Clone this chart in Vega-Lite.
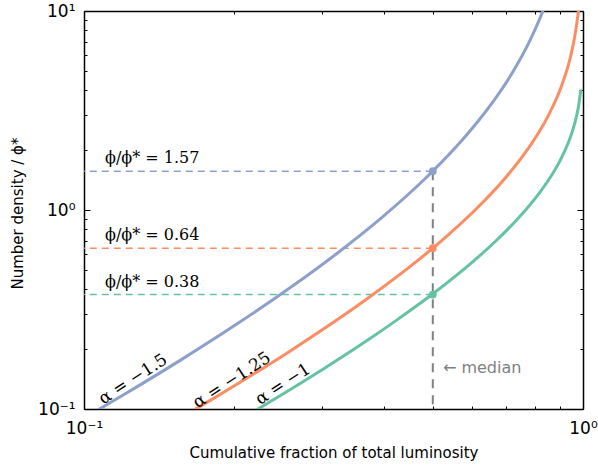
{
  "$schema": "https://vega.github.io/schema/vega-lite/v6.json",
  "width": 499,
  "height": 398,
  "autosize": "none",
  "padding": {"left": 84, "top": 11, "right": 15, "bottom": 61},
  "background": "white",
  "config": {
    "view": {"stroke": null},
    "axis": {"grid": false, "labelFont": "DejaVu Sans", "titleFont": "DejaVu Sans", "tickColor": "black", "domainColor": "black", "labelColor": "black", "titleColor": "black", "titleFontWeight": "normal", "tickWidth": 1}
  },
  "resolve": {"axis": {"x": "independent", "y": "independent"}},
  "datasets": {
    "curves": [
      {"series": "-1.5", "f": 0.8875, "n": 16.65},
      {"series": "-1.5", "f": 0.8597, "n": 12.70},
      {"series": "-1.5", "f": 0.8320, "n": 10.09},
      {"series": "-1.5", "f": 0.7773, "n": 6.852},
      {"series": "-1.5", "f": 0.7237, "n": 4.950},
      {"series": "-1.5", "f": 0.6714, "n": 3.713},
      {"series": "-1.5", "f": 0.6206, "n": 2.856},
      {"series": "-1.5", "f": 0.5716, "n": 2.234},
      {"series": "-1.5", "f": 0.5, "n": 1.568},
      {"series": "-1.5", "f": 0.4795, "n": 1.415},
      {"series": "-1.5", "f": 0.3961, "n": 0.9213},
      {"series": "-1.5", "f": 0.3222, "n": 0.6082},
      {"series": "-1.5", "f": 0.2579, "n": 0.4040},
      {"series": "-1.5", "f": 0.2031, "n": 0.2686},
      {"series": "-1.5", "f": 0.1573, "n": 0.1781},
      {"series": "-1.5", "f": 0.1198, "n": 0.1175},
      {"series": "-1.5", "f": 0.0897, "n": 0.0769},
      {"series": "-1.25", "f": 0.99388, "n": 17.60},
      {"series": "-1.25", "f": 0.98607, "n": 12.21},
      {"series": "-1.25", "f": 0.97959, "n": 10.17},
      {"series": "-1.25", "f": 0.96574, "n": 7.790},
      {"series": "-1.25", "f": 0.94263, "n": 5.806},
      {"series": "-1.25", "f": 0.90433, "n": 4.161},
      {"series": "-1.25", "f": 0.85627, "n": 3.052},
      {"series": "-1.25", "f": 0.81455, "n": 2.444},
      {"series": "-1.25", "f": 0.75383, "n": 1.837},
      {"series": "-1.25", "f": 0.70080, "n": 1.462},
      {"series": "-1.25", "f": 0.61061, "n": 1.011},
      {"series": "-1.25", "f": 0.53569, "n": 0.7458},
      {"series": "-1.25", "f": 0.47206, "n": 0.5713},
      {"series": "-1.25", "f": 0.36983, "n": 0.3588},
      {"series": "-1.25", "f": 0.26002, "n": 0.1970},
      {"series": "-1.25", "f": 0.18467, "n": 0.1157},
      {"series": "-1.25", "f": 0.14760, "n": 0.0830},
      {"series": "-1", "f": 0.99005, "n": 4.038},
      {"series": "-1", "f": 0.98020, "n": 3.355},
      {"series": "-1", "f": 0.97045, "n": 2.959},
      {"series": "-1", "f": 0.95123, "n": 2.468},
      {"series": "-1", "f": 0.90484, "n": 1.823},
      {"series": "-1", "f": 0.86071, "n": 1.464},
      {"series": "-1", "f": 0.81873, "n": 1.223},
      {"series": "-1", "f": 0.74082, "n": 0.9057},
      {"series": "-1", "f": 0.67032, "n": 0.7024},
      {"series": "-1", "f": 0.60653, "n": 0.5598},
      {"series": "-1", "f": 0.49659, "n": 0.3738},
      {"series": "-1", "f": 0.42741, "n": 0.2846},
      {"series": "-1", "f": 0.36788, "n": 0.2194},
      {"series": "-1", "f": 0.30119, "n": 0.1584},
      {"series": "-1", "f": 0.22313, "n": 0.1000},
      {"series": "-1", "f": 0.20190, "n": 0.0863}
    ],
    "medians": [
      {"series": "-1.5", "f": 0.5, "n": 1.568, "label": "ϕ/ϕ* = 1.57"},
      {"series": "-1.25", "f": 0.5, "n": 0.643, "label": "ϕ/ϕ* = 0.64"},
      {"series": "-1", "f": 0.5, "n": 0.376, "label": "ϕ/ϕ* = 0.38"}
    ],
    "alphas": [
      {"series": "-1.5", "f": 0.1254, "n": 0.141, "label": "α = −1.5"},
      {"series": "-1.25", "f": 0.198, "n": 0.1394, "label": "α = −1.25"},
      {"series": "-1", "f": 0.2505, "n": 0.133, "label": "α = −1"}
    ],
    "note": [
      {"f": 0.524, "n": 0.1607, "label": "← median"}
    ]
  },
  "layer": [
    {
      "data": {"name": "medians"},
      "mark": {"type": "rule", "strokeWidth": 1.5, "strokeDash": [7, 5]},
      "encoding": {
        "x": {"field": "f", "type": "quantitative", "scale": {"type": "log", "domain": [0.1, 1], "nice": false},
              "axis": {"orient": "top", "values": [0.1, 1], "labels": false, "title": null, "domain": true, "domainWidth": 1.5, "tickSize": -6}},
        "x2": {"datum": 0.1},
        "y": {"field": "n", "type": "quantitative", "scale": {"type": "log", "domain": [0.1, 10], "nice": false},
              "axis": {"orient": "right", "values": [0.1, 1, 10], "labels": false, "title": null, "domain": true, "domainWidth": 1.5, "tickSize": -6}},
        "color": {"field": "series", "type": "nominal", "scale": {"domain": ["-1.5", "-1.25", "-1"], "range": ["#8da0cb", "#fc8d62", "#66c2a5"]}, "legend": null}
      }
    },
    {
      "data": {"name": "medians"},
      "transform": [{"filter": "datum.series == '-1.5'"}],
      "mark": {"type": "rule", "strokeWidth": 2, "strokeDash": [9, 7], "color": "#808080"},
      "encoding": {
        "x": {"field": "f", "type": "quantitative", "scale": {"type": "log", "domain": [0.1, 1], "nice": false},
              "axis": {"orient": "bottom", "values": [0.2, 0.3, 0.4, 0.5, 0.6, 0.7, 0.8, 0.9], "labels": false, "title": null, "domain": false, "tickSize": -3}},
        "y": {"field": "n", "type": "quantitative", "scale": {"type": "log", "domain": [0.1, 10], "nice": false},
              "axis": {"orient": "left", "values": [0.2, 0.3, 0.4, 0.5, 0.6, 0.7, 0.8, 0.9, 2, 3, 4, 5, 6, 7, 8, 9], "labels": false, "title": null, "domain": false, "tickSize": -3}},
        "y2": {"datum": 0.1}
      }
    },
    {
      "data": {"name": "curves"},
      "mark": {"type": "line", "clip": true, "strokeWidth": 3, "interpolate": "monotone"},
      "encoding": {
        "x": {"field": "f", "type": "quantitative", "scale": {"type": "log", "domain": [0.1, 1], "nice": false},
              "axis": {"orient": "bottom", "values": [0.1, 1], "labelExpr": "datum.value < 0.5 ? '10⁻¹' : '10⁰'", "ticks": false, "domain": true, "domainWidth": 1.5, "labelFontSize": 17, "labelBaseline": "alphabetic", "labelPadding": 24, "labelFlush": false, "labelOverlap": false, "title": "Cumulative fraction of total luminosity", "titleFontSize": 15, "titleX": 249.5, "titleY": 48, "titleBaseline": "alphabetic", "titleAlign": "center"}},
        "y": {"field": "n", "type": "quantitative", "scale": {"type": "log", "domain": [0.1, 10], "nice": false},
              "axis": {"orient": "left", "values": [0.1, 1, 10], "labelExpr": "datum.value < 0.5 ? '10⁻¹' : datum.value < 5 ? '10⁰' : '10¹'", "ticks": false, "domain": true, "domainWidth": 1.5, "labelFontSize": 17, "labelBaseline": "middle", "labelPadding": 9, "labelFlush": false, "labelOverlap": false, "title": "Number density / ϕ*", "titleFontSize": 15, "titleX": -62, "titleY": 202, "titleAngle": -90, "titleAlign": "center", "titleBaseline": "alphabetic"}},
        "color": {"field": "series", "type": "nominal", "legend": null}
      }
    },
    {
      "data": {"name": "medians"},
      "mark": {"type": "point", "filled": true, "size": 60, "opacity": 1},
      "encoding": {
        "x": {"field": "f", "type": "quantitative", "scale": {"type": "log", "domain": [0.1, 1], "nice": false},
              "axis": {"orient": "top", "values": [0.2, 0.3, 0.4, 0.5, 0.6, 0.7, 0.8, 0.9], "labels": false, "title": null, "domain": false, "tickSize": -3}},
        "y": {"field": "n", "type": "quantitative", "scale": {"type": "log", "domain": [0.1, 10], "nice": false},
              "axis": {"orient": "right", "values": [0.2, 0.3, 0.4, 0.5, 0.6, 0.7, 0.8, 0.9, 2, 3, 4, 5, 6, 7, 8, 9], "labels": false, "title": null, "domain": false, "tickSize": -3}},
        "color": {"field": "series", "type": "nominal", "legend": null}
      }
    },
    {
      "data": {"name": "medians"},
      "mark": {"type": "text", "align": "left", "baseline": "alphabetic", "dy": -8, "font": "DejaVu Serif", "fontSize": 16, "color": "black"},
      "encoding": {
        "x": {"datum": 0.1102, "type": "quantitative", "scale": {"type": "log", "domain": [0.1, 1], "nice": false}, "axis": null},
        "y": {"field": "n", "type": "quantitative", "scale": {"type": "log", "domain": [0.1, 10], "nice": false}, "axis": null},
        "text": {"field": "label"}
      }
    },
    {
      "data": {"name": "alphas"},
      "mark": {"type": "text", "align": "center", "baseline": "middle", "angle": 327, "font": "DejaVu Serif", "fontSize": 17, "color": "black"},
      "encoding": {
        "x": {"field": "f", "type": "quantitative", "scale": {"type": "log", "domain": [0.1, 1], "nice": false},
              "axis": {"orient": "bottom", "values": [0.1, 1], "labels": false, "title": null, "domain": false, "tickSize": -6}},
        "y": {"field": "n", "type": "quantitative", "scale": {"type": "log", "domain": [0.1, 10], "nice": false},
              "axis": {"orient": "left", "values": [0.1, 1, 10], "labels": false, "title": null, "domain": false, "tickSize": -6}},
        "text": {"field": "label"}
      }
    },
    {
      "data": {"name": "note"},
      "mark": {"type": "text", "align": "left", "baseline": "middle", "font": "DejaVu Sans", "fontSize": 16, "color": "#808080"},
      "encoding": {
        "x": {"field": "f", "type": "quantitative", "scale": {"type": "log", "domain": [0.1, 1], "nice": false}, "axis": null},
        "y": {"field": "n", "type": "quantitative", "scale": {"type": "log", "domain": [0.1, 10], "nice": false}, "axis": null},
        "text": {"field": "label"}
      }
    }
  ]
}
